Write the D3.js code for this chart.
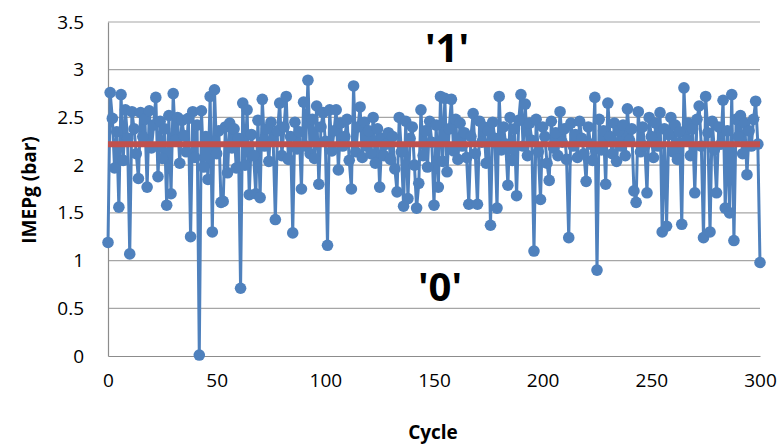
<!DOCTYPE html>
<html><head><meta charset="utf-8">
<script src="https://cdn.jsdelivr.net/npm/d3@7"></script>
<style>body{margin:0;background:#fff}svg{display:block}text{font-family:"Open Sans",sans-serif}</style>
</head><body><svg id="c" width="782" height="445"></svg>
<script>
const imep = [
1.19,2.76,2.49,1.97,2.35,1.56,2.74,2.05,2.58,2.28,
1.07,2.56,2.38,2.12,1.86,2.55,2.30,2.48,1.77,2.57,
2.18,2.42,2.71,1.88,2.46,2.07,2.38,1.58,2.52,1.70,
2.75,2.26,2.50,2.02,2.47,2.31,2.14,2.49,1.25,2.56,
2.08,2.42,0.01,2.57,1.98,2.30,1.85,2.72,1.30,2.79,
2.12,2.36,1.61,1.62,2.40,1.92,2.44,2.18,2.38,1.97,
2.28,0.71,2.65,2.00,2.58,1.69,2.32,2.10,1.70,2.47,
1.66,2.69,2.20,2.38,2.04,2.45,2.26,1.43,2.36,2.65,
2.10,2.40,2.72,2.06,2.30,1.29,2.45,2.17,2.35,1.75,
2.66,2.20,2.89,2.12,2.48,2.07,2.62,1.80,2.40,2.55,
2.25,1.16,2.58,2.15,2.36,2.58,1.95,2.44,2.20,2.30,
2.48,2.05,1.75,2.83,2.14,2.40,2.61,2.08,2.45,2.20,
2.36,2.12,2.50,2.02,2.38,1.77,2.28,2.10,2.22,2.34,
2.06,2.30,1.96,1.72,2.50,2.14,1.57,2.46,1.65,2.28,
2.40,2.00,1.55,1.81,2.58,2.10,2.36,1.98,2.46,2.24,
1.58,2.42,1.77,2.72,2.04,2.70,1.93,2.38,2.69,2.15,
2.48,2.06,2.44,2.20,2.34,2.08,1.59,2.30,2.54,2.12,
1.59,2.46,2.24,2.40,2.02,2.36,1.37,2.45,2.28,1.55,
2.72,2.16,2.40,2.22,1.79,2.50,2.05,2.38,1.68,2.47,
2.74,2.20,2.64,2.10,2.44,2.26,1.10,2.48,2.14,1.64,
2.40,2.30,2.02,1.84,2.46,2.18,2.34,2.10,2.56,2.24,
2.38,2.06,1.24,2.44,2.20,2.32,2.08,2.46,2.28,2.12,
1.83,2.40,2.22,2.05,2.71,0.90,2.48,2.16,2.36,1.80,
2.65,2.30,2.12,2.44,2.04,2.36,2.20,2.42,2.10,2.59,
2.26,2.38,1.73,1.61,2.56,2.14,2.40,2.20,1.71,2.50,
2.30,2.08,2.44,2.20,2.55,1.30,2.38,1.36,2.32,2.50,
2.14,2.42,2.06,2.35,1.38,2.81,2.26,2.44,2.10,2.38,
1.71,2.48,2.62,2.20,1.24,2.72,2.34,1.30,2.46,2.16,
1.71,2.40,2.22,2.68,1.55,2.36,1.50,2.74,1.21,2.48,
2.30,2.52,2.12,2.44,1.90,2.36,2.20,2.48,2.67,2.22,
0.98];
const meanLevel = [2.22, 2.22];
const meanCycles = [0, 300];
const xTicks = [0,50,100,150,200,250,300];
const yTicks = [0,0.5,1,1.5,2,2.5,3,3.5];

const svg = d3.select("#c");
const L=108, R=760, T=22, B=356;
const x = d3.scaleLinear().domain([0,300]).range([L,R]);
const y = d3.scaleLinear().domain([0,3.5]).range([B,T]);

// gridlines
svg.append("g").selectAll("line").data(yTicks.filter(d=>d>0)).join("line")
  .attr("x1",L).attr("x2",R).attr("y1",d=>y(d)).attr("y2",d=>y(d))
  .attr("stroke","#a6a6a6").attr("stroke-width",1.2);

// axes
const yAxis = svg.append("g").attr("transform",`translate(${L},0)`)
  .call(d3.axisLeft(y).tickValues(yTicks).tickSize(0).tickPadding(24).tickFormat(d3.format("")));
yAxis.select(".domain").attr("stroke","#8c8c8c").attr("stroke-width",1.2);
yAxis.selectAll("text").attr("font-size",19).attr("fill","#000").attr("font-family","Open Sans");

const xAxis = svg.append("g").attr("transform",`translate(0,${B})`)
  .call(d3.axisBottom(x).tickValues(xTicks).tickSize(0).tickPadding(18).tickFormat(d3.format("")));
xAxis.select(".domain").attr("stroke","#8c8c8c").attr("stroke-width",1.2);
xAxis.selectAll("text").attr("font-size",19).attr("fill","#000").attr("font-family","Open Sans");

// series
const line = d3.line().x((d,i)=>x(i)).y(d=>y(d));
svg.append("path").datum(imep).attr("d",line).attr("fill","none")
  .attr("stroke","#4f81bd").attr("stroke-width",3).attr("stroke-linejoin","round");
svg.append("g").selectAll("circle").data(imep).join("circle")
  .attr("cx",(d,i)=>x(i)).attr("cy",d=>y(d)).attr("r",5.8).attr("fill","#4f81bd");

// mean line
svg.append("path").datum(meanCycles.map((c,i)=>[c,meanLevel[i]]))
  .attr("d",d3.line().x(d=>x(d[0])).y(d=>y(d[1])))
  .attr("stroke","#c0504d").attr("stroke-width",6).attr("fill","none");

// labels
svg.append("text").attr("x",447).attr("y",62).attr("text-anchor","middle")
  .attr("font-size",40).attr("font-weight","bold").text("'1'");
svg.append("text").attr("x",440).attr("y",301).attr("text-anchor","middle")
  .attr("font-size",40).attr("font-weight","bold").text("'0'");
svg.append("text").attr("x",433).attr("y",439).attr("text-anchor","middle")
  .attr("font-size",19).attr("font-weight","bold").text("Cycle");
svg.append("text").attr("transform","translate(36,190) rotate(-90)").attr("text-anchor","middle")
  .attr("font-size",19).attr("font-weight","bold").text("IMEPg (bar)");
</script></body></html>
